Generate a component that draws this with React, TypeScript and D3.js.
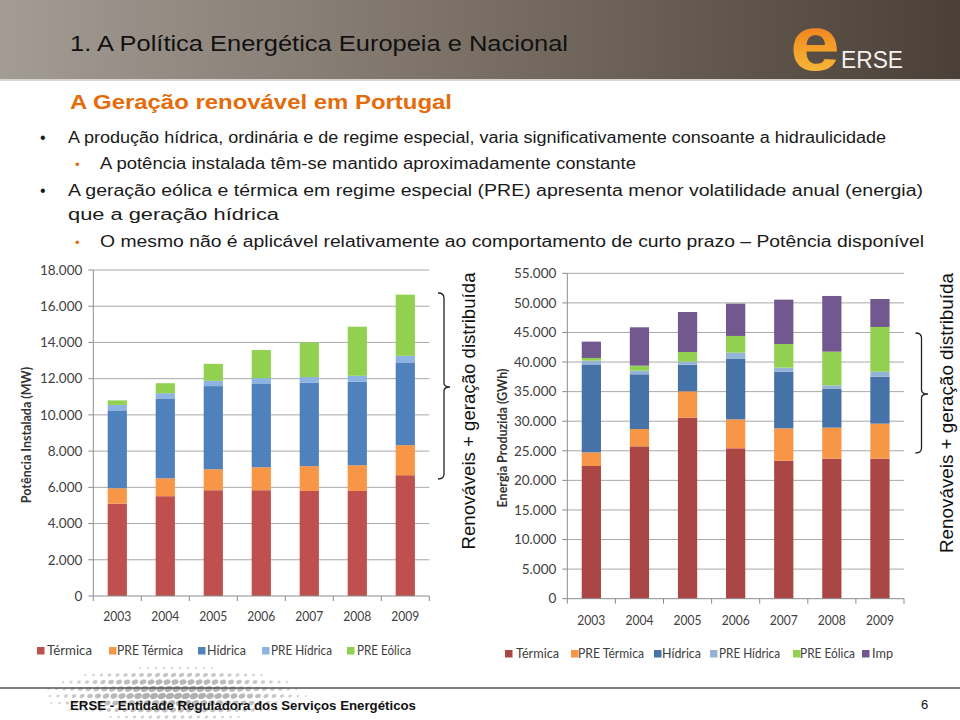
import React from "react";
import * as d3 from "d3";

const years = ["2003", "2004", "2005", "2006", "2007", "2008", "2009"];

// Potência Instalada (MW)
const termicaMW = [5100, 5510, 5840, 5840, 5800, 5800, 6670];
const preTermicaMW = [850, 990, 1160, 1270, 1370, 1420, 1660];
const hidricaMW = [4300, 4410, 4590, 4630, 4600, 4610, 4570];
const preHidricaMW = [300, 290, 290, 290, 320, 330, 360];
const preEolicaMW = [250, 550, 940, 1550, 1910, 2710, 3380];

// Energia Produzida (GWh)
const termicaGWh = [22430, 25750, 30600, 25420, 23330, 23670, 23670];
const preTermicaGWh = [2310, 2930, 4450, 4900, 5470, 5240, 5920];
const hidricaGWh = [14760, 9250, 4510, 10200, 9580, 6540, 7940];
const preHidricaGWh = [740, 620, 510, 1070, 670, 620, 850];
const preEolicaGWh = [450, 840, 1630, 2820, 4000, 5690, 7550];
const impGWh = [2760, 6480, 6760, 5460, 7500, 9410, 4730];

const leftSeriesNames = ["Térmica", "PRE Térmica", "Hídrica", "PRE Hídrica", "PRE Eólica"];
const rightSeriesNames = ["Térmica", "PRE Térmica", "Hídrica", "PRE Hídrica", "PRE Eólica", "Imp"];
const leftColors = ["#c0504d", "#f79646", "#4f81bd", "#8db3e2", "#92d050"];
const rightColors = ["#aa4643", "#f79646", "#4572a7", "#95b3d7", "#92d050", "#71588f"];

const leftTicks = [0, 2000, 4000, 6000, 8000, 10000, 12000, 14000, 16000, 18000];
const rightTicks = [0, 5000, 10000, 15000, 20000, 25000, 30000, 35000, 40000, 45000, 50000, 55000];

const ptLocale = d3.formatLocale({ decimal: ",", thousands: ".", grouping: [3], currency: ["", "€"] });
const fmt = ptLocale.format(",");

const LABEL_FONT = "Lato, 'Open Sans', sans-serif";
const ARIAL = "'Liberation Sans', Arial, sans-serif";

type ChartProps = {
  series: number[][];
  names: string[];
  colors: string[];
  ticks: number[];
  maxV: number;
  x0: number;
  x1: number;
  y0: number;
  y1: number;
  yearY: number;
  title: string;
  titleX: number;
};

function StackedChart(p: ChartProps) {
  const rows = years.map((yr, i) => {
    const o: any = { year: yr };
    p.names.forEach((n, k) => (o[n] = p.series[k][i]));
    return o;
  });
  const stack = d3.stack<any>().keys(p.names)(rows);
  const x = d3.scaleBand<string>().domain(years).range([p.x0, p.x1]).paddingInner(0.6).paddingOuter(0.3);
  const y = d3.scaleLinear().domain([0, p.maxV]).range([p.y0, p.y1]);
  const step = (p.x1 - p.x0) / years.length;
  return (
    <g>
      {p.ticks.map((t) => (
        <g key={t}>
          {t > 0 && <line x1={p.x0} x2={p.x1} y1={y(t)} y2={y(t)} stroke="#a8a8a8" strokeWidth={1} />}
          <line x1={p.x0 - 5} x2={p.x0} y1={y(t)} y2={y(t)} stroke="#8c8c8c" strokeWidth={1} />
          <text x={p.x0 - 11} y={y(t)} dy="0.35em" textAnchor="end" fontFamily={LABEL_FONT} fontSize={13.5} fill="#404040">
            {fmt(t)}
          </text>
        </g>
      ))}
      {stack.map((s, k) => (
        <g key={p.names[k]} fill={p.colors[k]}>
          {s.map((d: any, i: number) => (
            <rect key={i} x={x(years[i])} width={x.bandwidth()} y={y(d[1])} height={y(d[0]) - y(d[1])} />
          ))}
        </g>
      ))}
      <line x1={p.x0} x2={p.x0} y1={y(p.maxV)} y2={p.y0} stroke="#8c8c8c" strokeWidth={1} />
      <line x1={p.x0} x2={p.x1} y1={p.y0} y2={p.y0} stroke="#8c8c8c" strokeWidth={1} />
      {d3.range(years.length + 1).map((i) => (
        <line key={i} x1={p.x0 + i * step} x2={p.x0 + i * step} y1={p.y0} y2={p.y0 + 5} stroke="#8c8c8c" strokeWidth={1} />
      ))}
      {years.map((yr) => (
        <text key={yr} x={(x(yr) as number) + x.bandwidth() / 2} y={p.yearY} dy="0.35em" textAnchor="middle" fontFamily={LABEL_FONT} fontSize={13.5} fill="#404040" textLength={28} lengthAdjust="spacingAndGlyphs">
          {yr}
        </text>
      ))}
      <text transform={`translate(${p.titleX},${(p.y0 + y(p.maxV)) / 2 + 2}) rotate(-90)`} textAnchor="middle" dy="0.35em" fontFamily={LABEL_FONT} fontWeight="bold" fontSize={12.5} fill="#333">
        {p.title}
      </text>
    </g>
  );
}

function Legend({ names, colors, sq, tx, tw, y }: { names: string[]; colors: string[]; sq: number[]; tx: number[]; tw: number[]; y: number }) {
  return (
    <g>
      {names.map((n, i) => (
        <g key={n}>
          <rect x={sq[i]} y={y - 4} width={7.5} height={7.5} fill={colors[i]} />
          <text x={tx[i]} y={y} dy="0.35em" fontFamily={LABEL_FONT} fontSize={12.5} fill="#404040" textLength={tw[i]} lengthAdjust="spacingAndGlyphs">
            {n}
          </text>
        </g>
      ))}
    </g>
  );
}

function Brace({ x, top, bottom, mid, tip }: { x: number; top: number; bottom: number; mid: number; tip: number }) {
  const d = `M${x - 6},${top} Q${x},${top} ${x},${top + 5} L${x},${mid - 4} Q${x},${mid} ${tip},${mid} Q${x},${mid} ${x},${mid + 4} L${x},${bottom - 5} Q${x},${bottom} ${x - 6},${bottom}`;
  return <path d={d} fill="none" stroke="#222" strokeWidth={1.3} />;
}

function Dots() {
  const items: JSX.Element[] = [];
  for (let r = 0; r < 8; r++) {
    const yy = 668 + r * 7;
    for (let c = 0; c < 40; c++) {
      const xx = 4 + c * 8 + r * 1.5;
      const dx = (xx - 175) / 135;
      const dy = (yy - 694) / 28;
      const w = 1 - (dx * dx + dy * dy);
      if (w <= 0.05) continue;
      items.push(<ellipse key={`${r}-${c}`} cx={xx} cy={yy} rx={1 + 3.2 * w} ry={0.8 + 2.2 * w} fill="#aaa" opacity={0.4 + 0.55 * w} transform={`rotate(-20 ${xx} ${yy})`} />);
    }
  }
  return <g>{items}</g>;
}

export default function App() {
  return (
    <svg width={960} height={720} style={{ position: "absolute", left: 0, top: 0, background: "#fff" }}>
      <defs>
        <linearGradient id="hdr" x1="0" x2="1" y1="0" y2="0">
          <stop offset="0" stopColor="#a39c94" />
          <stop offset="0.45" stopColor="#7d7369" />
          <stop offset="1" stopColor="#4a4037" />
        </linearGradient>
        <linearGradient id="logo" x1="0" x2="0" y1="0" y2="1">
          <stop offset="0" stopColor="#ea5a1c" />
          <stop offset="0.5" stopColor="#f39a26" />
          <stop offset="1" stopColor="#f9c443" />
        </linearGradient>
      </defs>
      <rect x={0} y={0} width={960} height={79} fill="url(#hdr)" />
      <rect x={0} y={79} width={960} height={2} fill="#d8d4d0" />
      <text x={70} y={51} fontFamily={ARIAL} fontSize={22} fill="#111" textLength={498} lengthAdjust="spacingAndGlyphs">
        1. A Política Energética Europeia e Nacional
      </text>
      <text x={790} y={70} fontFamily={ARIAL} fontWeight="bold" fontSize={78} fill="url(#logo)" textLength={50} lengthAdjust="spacingAndGlyphs">e</text>
      <text x={841} y={68} fontFamily={ARIAL} fontSize={24} fill="#f4f1ee" textLength={62} lengthAdjust="spacingAndGlyphs">ERSE</text>

      <text x={70} y={109} fontFamily={ARIAL} fontWeight="bold" fontSize={20} fill="#e46c0a" textLength={382} lengthAdjust="spacingAndGlyphs">
        A Geração renovável em Portugal
      </text>

      <g fontFamily={ARIAL} fontSize={16} fill="#1a1a1a">
        <text x={40} y={143}>•</text>
        <text x={68} y={143} textLength={818} lengthAdjust="spacingAndGlyphs">A produção hídrica, ordinária e de regime especial, varia significativamente consoante a hidraulicidade</text>
        <text x={75} y={169} fill="#e46c0a" fontSize={13}>•</text>
        <text x={100} y={169} textLength={536} lengthAdjust="spacingAndGlyphs">A potência instalada têm-se mantido aproximadamente constante</text>
        <text x={40} y={196}>•</text>
        <text x={68} y={196} textLength={855} lengthAdjust="spacingAndGlyphs">A geração eólica  e térmica em regime especial (PRE) apresenta menor volatilidade anual (energia)</text>
        <text x={68} y={220} textLength={211} lengthAdjust="spacingAndGlyphs">que a geração hídrica</text>
        <text x={75} y={247} fill="#e46c0a" fontSize={13}>•</text>
        <text x={100} y={247} textLength={824} lengthAdjust="spacingAndGlyphs">O mesmo não é aplicável relativamente ao comportamento de curto prazo – Potência disponível</text>
      </g>

      <StackedChart
        series={[termicaMW, preTermicaMW, hidricaMW, preHidricaMW, preEolicaMW]}
        names={leftSeriesNames}
        colors={leftColors}
        ticks={leftTicks}
        maxV={18000}
        x0={93.3}
        x1={429.3}
        y0={596}
        y1={270}
        yearY={616}
        title="Potência Instalada (MW)"
        titleX={27}
      />
      <StackedChart
        series={[termicaGWh, preTermicaGWh, hidricaGWh, preHidricaGWh, preEolicaGWh, impGWh]}
        names={rightSeriesNames}
        colors={rightColors}
        ticks={rightTicks}
        maxV={55000}
        x0={567.3}
        x1={904}
        y0={598.7}
        y1={273.3}
        yearY={620}
        title="Energia Produzida (GWh)"
        titleX={503}
      />

      <Brace x={444} top={293} bottom={479} mid={387} tip={450} />
      <text transform="translate(468,411) rotate(-90)" textAnchor="middle" dy="0.35em" fontFamily={ARIAL} fontSize={19} fill="#111" textLength={277} lengthAdjust="spacingAndGlyphs">
        Renováveis  + geração distribuída
      </text>
      <Brace x={921.5} top={333} bottom={453} mid={394} tip={928} />
      <text transform="translate(946,413) rotate(-90)" textAnchor="middle" dy="0.35em" fontFamily={ARIAL} fontSize={19} fill="#111" textLength={280} lengthAdjust="spacingAndGlyphs">
        Renováveis  + geração distribuída
      </text>

      <Legend names={leftSeriesNames} colors={leftColors} sq={[37, 109, 198, 262, 347]} tx={[47, 117, 207, 271, 357]} tw={[45, 66, 39, 61, 54]} y={651} />
      <Legend names={rightSeriesNames} colors={rightColors} sq={[505, 571, 654, 710, 793, 862]} tx={[516, 578, 662, 719, 800, 872]} tw={[43, 66, 39, 61, 55, 21]} y={654} />

      <Dots />
      <line x1={0} x2={960} y1={688} y2={688} stroke="#555" strokeWidth={1.5} />
      <text x={70} y={710} fontFamily={ARIAL} fontWeight="bold" fontSize={13} fill="#111" textLength={346} lengthAdjust="spacingAndGlyphs">
        ERSE - Entidade Reguladora dos Serviços Energéticos
      </text>
      <text x={921} y={709} fontFamily={ARIAL} fontSize={13} fill="#111">6</text>
    </svg>
  );
}
